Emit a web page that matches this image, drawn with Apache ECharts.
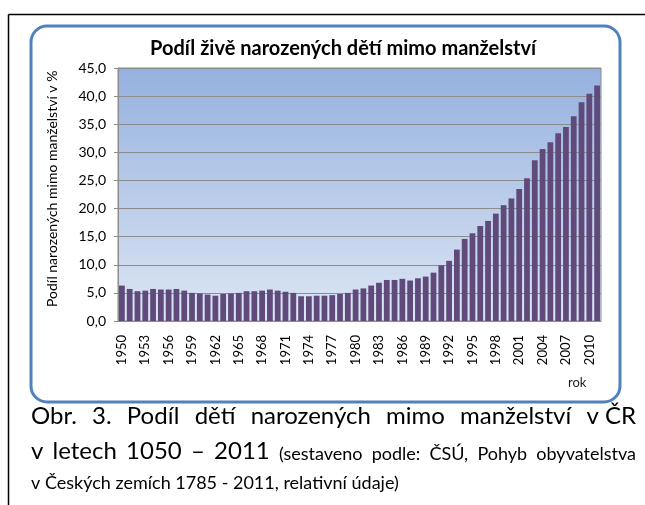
<!DOCTYPE html>
<html>
<head>
<meta charset="utf-8">
<script src="https://cdn.jsdelivr.net/npm/echarts@6/dist/echarts.min.js"></script>
<style>
  html, body { margin: 0; padding: 0; background: #fff; }
  #chart-content { width: 645px; height: 505px; }
</style>
</head>
<body>
<div id="chart-content"></div>
<script>
// roky (osa x)
const years = [
  '1950', '1951', '1952', '1953', '1954', '1955', '1956', '1957', '1958', '1959',
  '1960', '1961', '1962', '1963', '1964', '1965', '1966', '1967', '1968', '1969',
  '1970', '1971', '1972', '1973', '1974', '1975', '1976', '1977', '1978', '1979',
  '1980', '1981', '1982', '1983', '1984', '1985', '1986', '1987', '1988', '1989',
  '1990', '1991', '1992', '1993', '1994', '1995', '1996', '1997', '1998', '1999',
  '2000', '2001', '2002', '2003', '2004', '2005', '2006', '2007', '2008', '2009',
  '2010', '2011'
];
// podíl narozených mimo manželství v %
const shareOutside = [
  6.3, 5.7, 5.3, 5.4, 5.7, 5.6, 5.6, 5.7, 5.4, 5.0,
  4.9, 4.7, 4.5, 4.8, 4.9, 5.0, 5.3, 5.3, 5.4, 5.6,
  5.4, 5.2, 5.0, 4.4, 4.4, 4.5, 4.5, 4.6, 4.8, 5.0,
  5.6, 5.8, 6.3, 6.8, 7.3, 7.3, 7.5, 7.2, 7.6, 7.9,
  8.6, 9.9, 10.7, 12.7, 14.6, 15.6, 16.9, 17.8, 19.1, 20.6,
  21.8, 23.5, 25.4, 28.6, 30.6, 31.8, 33.4, 34.5, 36.4, 38.9,
  40.4, 41.9
];
const yTicks = [0, 5, 10, 15, 20, 25, 30, 35, 40, 45];

const titleText = 'Podíl živě narozených dětí mimo manželství';
const yName = 'Podíl narozených mimo manželství v %';
const xName = 'rok';
// popisek pod grafem: [slovo, velikost]
const captionLine1 = [['Obr.', 24], ['3.', 24], ['Podíl', 24], ['dětí', 24], ['narozených', 24],
  ['mimo', 24], ['manželství', 24], ['v ČR', 24]];
const captionLine2 = [['v', 24], ['letech', 24], ['1050', 24], ['–', 24], ['2011', 24],
  ['(sestaveno', 18], ['podle:', 18], ['ČSÚ,', 18], ['Pohyb', 18], ['obyvatelstva', 18]];
const captionLine3 = 'v Českých zemích 1785 - 2011, relativní údaje)';

const FONT = 'Lato';
const myEcharts = echarts.init(document.getElementById('chart-content'));

// zarovnání do bloku (jako ve Wordu)
const ctx = document.createElement('canvas').getContext('2d');
function justify(words, x0, x1, y) {
  let widths = words.map(w => {
    ctx.font = w[1] + 'px ' + FONT;
    return ctx.measureText(w[0]).width;
  });
  let total = widths.reduce((a, b) => a + b, 0);
  let gap = (x1 - x0 - total) / (words.length - 1);
  let x = x0;
  let out = [];
  words.forEach((w, i) => {
    out.push({
      type: 'text', left: x, top: y - w[1] * 0.85,
      style: { text: w[0], font: w[1] + 'px ' + FONT, fill: '#000' }
    });
    x += widths[i] + gap;
  });
  return out;
}

let graphics = [
  // vnější černý rámeček
  { type: 'line', shape: { x1: 8.5, y1: 14.5, x2: 645, y2: 14.5 }, style: { stroke: '#000', lineWidth: 1.5 } },
  { type: 'line', shape: { x1: 8.5, y1: 14.5, x2: 8.5, y2: 505 }, style: { stroke: '#000', lineWidth: 1.5 } },
  // modrý zaoblený rámeček grafu
  { type: 'rect', shape: { x: 31, y: 26, width: 589, height: 376, r: 16 },
    style: { fill: 'none', stroke: '#4f81bd', lineWidth: 3 } },
  { type: 'text', left: 150, top: 39, z: 10,
    style: { text: titleText, font: 'bold 20px ' + FONT, fill: '#000' } },
  { type: 'text', rotation: Math.PI / 2, x: 45, y: 307,
    style: { text: yName, font: '14px ' + FONT, fill: '#000' } },
  { type: 'text', left: 568, top: 376, style: { text: xName, font: '13px ' + FONT, fill: '#222' } },
  { type: 'text', left: 31, top: 474, style: { text: captionLine3, font: '18px ' + FONT, fill: '#000' } }
];
graphics = graphics.concat(justify(captionLine1, 31, 636, 425), justify(captionLine2, 31, 636, 460));

let option = {
  backgroundColor: '#fff',
  textStyle: { fontFamily: FONT },
  grid: {
    left: 118, right: 44, top: 68, bottom: 184,
    show: true,
    borderColor: '#8c8c8c',
    borderWidth: 1,
    backgroundColor: {
      type: 'linear', x: 0, y: 0, x2: 0, y2: 1,
      colorStops: [{ offset: 0, color: '#95b1df' }, { offset: 1, color: '#dde6f4' }]
    }
  },
  xAxis: {
    type: 'category',
    data: years,
    axisLine: { lineStyle: { color: '#8c8c8c' } },
    axisTick: { interval: 0, length: 5, lineStyle: { color: '#8c8c8c' } },
    axisLabel: { interval: 2, rotate: 90, margin: 14, fontSize: 13, color: '#000', fontFamily: FONT }
  },
  yAxis: {
    type: 'value',
    min: yTicks[0],
    max: yTicks[yTicks.length - 1],
    interval: yTicks[1] - yTicks[0],
    axisLine: { show: true, lineStyle: { color: '#8c8c8c' } },
    axisTick: { show: true, length: 4, lineStyle: { color: '#8c8c8c' } },
    splitLine: { show: true, lineStyle: { color: '#8c8c8c' } },
    axisLabel: {
      margin: 12, fontSize: 14, color: '#000', fontFamily: FONT,
      formatter: v => v.toFixed(1).replace('.', ',')
    }
  },
  series: [{
    type: 'bar',
    data: shareOutside,
    barCategoryGap: '26%',
    itemStyle: { color: '#5f4a7b' },
    animation: false
  }],
  graphic: graphics,
  animation: false
};
myEcharts.setOption(option);
</script>
</body>
</html>
